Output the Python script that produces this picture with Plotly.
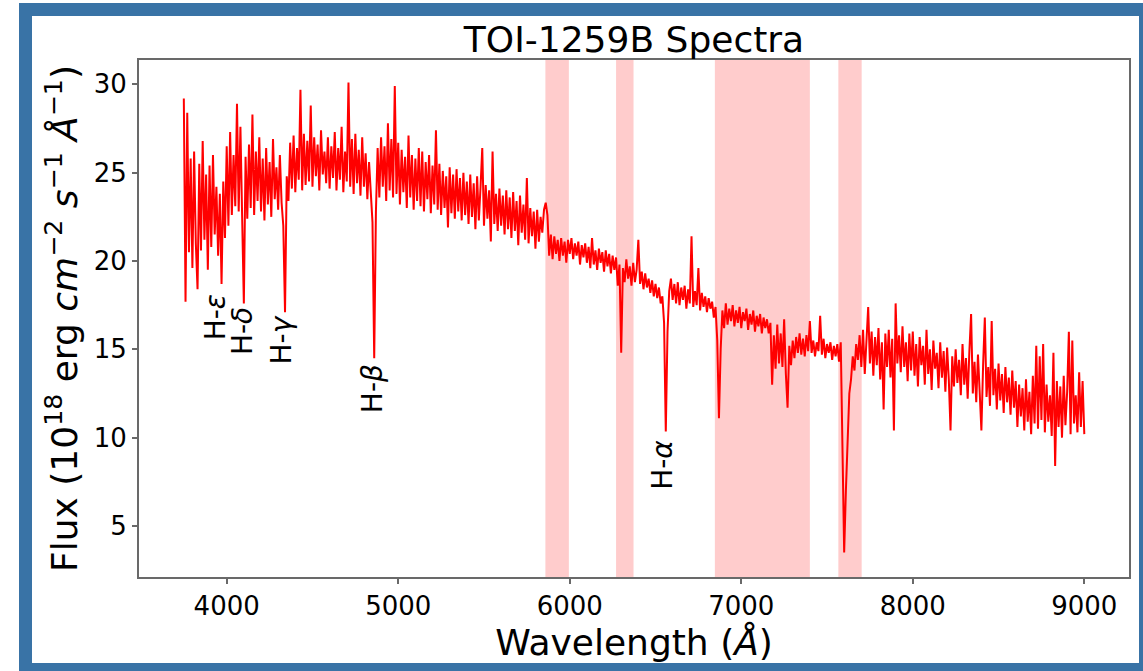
import plotly.graph_objects as go

# ---------------- data ----------------
WAVE_START = 3750   # Angstrom, first sample
WAVE_STEP = 10      # Angstrom between samples

FLUX = [
    # 3750 - 3840
    29.2, 17.7, 28.4, 20.5, 25.8, 19.6, 26.2, 21.0, 18.4, 25.5,
    # 3850 - 3940
    20.6, 26.8, 21.2, 24.9, 19.5, 25.4, 20.8, 26.0, 21.5, 24.2,
    # 3950 - 4040
    20.3, 23.8, 18.7, 24.5, 21.3, 26.5, 22.0, 27.3, 22.6, 26.0,
    # 4050 - 4140
    23.1, 28.9, 22.8, 27.6, 22.5, 17.6, 25.9, 22.4, 26.6, 23.0,
    # 4150 - 4240
    28.3, 22.6, 26.2, 23.4, 27.0, 22.8, 25.8, 22.3, 26.4, 23.2,
    # 4250 - 4340
    25.6, 22.5, 26.9, 23.5, 25.3, 22.9, 26.0, 23.3, 22.0, 17.1,
    # 4350 - 4440
    24.8, 23.4, 26.7, 24.1, 27.1, 23.9, 26.4, 24.6, 29.7, 24.0,
    # 4450 - 4540
    27.2, 24.3, 26.8, 24.5, 28.8, 24.2, 27.0, 24.8, 26.6, 24.0,
    # 4550 - 4640
    27.4, 24.9, 26.2, 24.4, 27.0, 24.1, 26.5, 24.7, 27.3, 24.0,
    # 4650 - 4740
    26.4, 24.6, 27.6, 23.9, 26.2, 24.5, 30.1, 24.2, 26.9, 23.8,
    # 4750 - 4840
    27.2, 24.4, 26.3, 23.7, 27.0, 24.2, 26.1, 23.5, 25.6, 23.9,
    # 4850 - 4940
    22.2, 14.5, 22.8, 26.4, 23.6, 27.0, 24.2, 26.5, 23.4, 27.8,
    # 4950 - 5040
    24.0, 26.9, 23.6, 29.9, 23.8, 26.7, 23.2, 26.3, 23.9, 25.9,
    # 5050 - 5140
    23.0, 27.1, 23.6, 26.0, 22.9, 25.8, 23.4, 26.4, 23.1, 26.2,
    # 5150 - 5240
    22.8, 25.6, 23.5, 26.0, 22.7, 25.4, 23.2, 27.4, 22.9, 25.5,
    # 5250 - 5340
    22.6, 25.1, 23.0, 24.8, 21.9, 25.3, 22.7, 24.9, 22.4, 25.2,
    # 5350 - 5440
    22.8, 24.7, 22.3, 25.0, 22.6, 24.5, 22.1, 24.9, 22.5, 24.4,
    # 5450 - 5540
    21.8, 24.8, 22.3, 24.2, 26.4, 22.0, 24.3, 22.4, 24.0, 21.1,
    # 5550 - 5640
    26.2, 22.1, 23.8, 21.7, 24.1, 22.0, 23.7, 21.5, 24.0, 21.8,
    # 5650 - 5740
    23.6, 21.3, 23.9, 21.7, 23.4, 20.9, 23.7, 21.6, 23.2, 21.2,
    # 5750 - 5840
    24.7, 21.0, 23.0, 21.4, 22.8, 20.7, 22.9, 21.1, 22.5, 21.6,
    # 5850 - 5940
    22.9, 23.3, 22.6, 20.3, 21.5, 20.1, 21.4, 20.4, 21.2, 20.0,
    # 5950 - 6040
    21.3, 20.3, 21.1, 19.9, 21.2, 20.4, 21.3, 20.1, 21.0, 20.3,
    # 6050 - 6140
    21.1, 19.8, 20.9, 20.2, 21.0, 19.9, 20.8, 19.6, 21.3, 19.8,
    # 6150 - 6240
    20.6, 19.5, 20.7, 19.9, 20.5, 19.4, 20.6, 19.7, 20.4, 19.3,
    # 6250 - 6340
    20.3, 19.5, 20.2, 18.6, 19.8, 14.8, 19.6, 18.8, 20.1, 19.0,
    # 6350 - 6440
    19.7, 18.6, 19.9, 18.8, 19.5, 21.2, 18.7, 19.4, 18.4, 19.3,
    # 6450 - 6540
    18.5, 19.0, 18.2, 18.9, 18.0, 18.7, 17.9, 18.5, 17.6, 18.0,
    # 6550 - 6640
    16.5, 10.35, 16.0, 18.3, 19.0, 17.8, 18.7, 17.6, 18.8, 17.5,
    # 6650 - 6740
    18.5, 17.8, 18.6, 17.3, 18.4, 17.6, 21.4, 17.4, 18.3, 17.5,
    # 6750 - 6840
    19.6, 17.2, 18.2, 17.4, 18.0, 17.1, 17.9, 17.3, 17.7, 16.8,
    # 6850 - 6940
    17.4, 15.5, 11.1, 15.0, 17.2, 16.2, 17.6, 16.4, 17.3, 16.6,
    # 6950 - 7040
    17.5, 16.3, 17.2, 16.5, 17.4, 16.2, 17.1, 16.6, 17.3, 16.1,
    # 7050 - 7140
    17.0, 16.4, 17.2, 16.0, 16.9, 16.3, 17.0, 15.9, 16.8, 16.2,
    # 7150 - 7240
    16.7, 15.9, 16.5, 13.0, 15.8, 13.9, 16.4, 14.2, 15.9, 14.0,
    # 7250 - 7340
    16.7, 13.6, 11.7, 15.2, 14.1, 15.5, 14.5, 15.7, 14.8, 15.9,
    # 7350 - 7440
    14.7, 15.6, 14.6, 15.8, 14.9, 16.6, 14.8, 15.5, 14.6, 15.4,
    # 7450 - 7540
    14.9, 16.9, 14.7, 15.6, 14.5, 15.3, 14.8, 15.4, 14.4, 15.2,
    # 7550 - 7640
    14.6, 15.3, 14.3, 15.4, 10.0, 3.5, 7.0, 10.3, 12.5, 13.3,
    # 7650 - 7740
    14.6, 13.8, 15.3, 14.4, 15.8, 14.0, 16.1, 13.6, 15.5, 17.4,
    # 7750 - 7840
    14.2, 16.0, 13.5, 15.7, 14.1, 16.2, 13.3, 15.4, 11.6, 15.9,
    # 7850 - 7940
    14.0, 16.1, 13.4, 15.6, 10.4, 17.6, 14.2, 15.8, 13.7, 16.3,
    # 7950 - 8040
    14.0, 15.4, 13.2, 15.9, 13.8, 16.0, 13.5, 15.3, 12.9, 15.7,
    # 8050 - 8140
    14.1, 15.2, 13.0, 16.1, 13.6, 15.0, 12.7, 15.5, 13.9, 14.8,
    # 8150 - 8240
    12.8, 15.4, 13.4, 14.9, 12.6, 15.1, 13.3, 10.4, 14.6, 12.9,
    # 8250 - 8340
    15.0, 13.1, 14.4, 12.4, 15.3, 13.0, 14.5, 12.2, 14.9, 17.0,
    # 8350 - 8440
    12.5, 14.3, 12.0, 14.7, 12.6, 10.4, 14.1, 16.8, 12.3, 14.0,
    # 8450 - 8540
    11.8, 16.6, 12.4, 13.9, 11.6, 14.2, 12.1, 13.6, 11.4, 14.0,
    # 8550 - 8640
    12.0, 13.4, 11.3, 13.8, 11.7, 13.2, 10.6, 13.0, 11.2, 12.8,
    # 8650 - 8740
    10.4, 13.3, 10.9, 12.6, 10.2, 13.5, 10.8, 15.2, 10.5, 14.6,
    # 8750 - 8840
    11.0, 15.3, 10.3, 13.0, 10.9, 12.4, 10.1, 14.8, 8.4, 13.2,
    # 8850 - 8940
    10.6, 12.9, 10.0, 13.5, 10.7, 12.6, 16.0, 10.2, 15.5, 10.8,
    # 8950 - 9000
    12.4, 10.3, 13.7, 10.6, 13.2, 10.2,
]
WAVE = [WAVE_START + WAVE_STEP * i for i in range(len(FLUX))]

# shaded (telluric) wavelength bands
BAND_START = [5858, 6270, 6846, 7566]
BAND_END = [5995, 6372, 7400, 7702]

# Balmer line labels
LINE_LABELS = ["H-<i>ε</i>", "H-<i>δ</i>", "H-<i>γ</i>", "H-<i>β</i>", "H-<i>α</i>"]
LINE_LABEL_X = [3935, 4089, 4322, 4847, 6539]
LINE_LABEL_Y = [18.2, 17.5, 17.05, 14.3, 10.0]

X_TICKS = [4000, 5000, 6000, 7000, 8000, 9000]
Y_TICKS = [5, 10, 15, 20, 25, 30]

# ---------------- figure ----------------
W, H = 1143, 671
PL, PR, PT, PB = 139, 1129, 60, 577   # plot area in pixels
FONT = "DejaVu Sans"
AXCOL = "rgb(105,105,105)"
FRAME = "rgb(57,115,166)"


def xp(px):
    return (px - PL) / (PR - PL)


def yp(py):
    return (PB - py) / (PB - PT)


fig = go.Figure()
fig.add_trace(go.Scatter(
    x=WAVE, y=FLUX, mode="lines",
    line=dict(color="#ff0000", width=2.0),
    showlegend=False, hoverinfo="skip",
))

shapes = []
for a, b in zip(BAND_START, BAND_END):
    shapes.append(dict(type="rect", xref="x", yref="paper", x0=a, x1=b, y0=0, y1=1,
                       fillcolor="rgba(255,0,0,0.2)", line=dict(width=0), layer="below"))

# blue frame around the whole picture
for (x0, x1, y0, y1) in [(19, 32, 3, 671), (1139, 1150, 3, 671),
                         (19, 1150, 3, 16), (19, 1150, 663, 675)]:
    shapes.append(dict(type="rect", xref="paper", yref="paper",
                       x0=xp(x0), x1=xp(x1), y0=yp(y1), y1=yp(y0),
                       fillcolor=FRAME, line=dict(width=0), layer="above"))

annotations = []
for txt, x, y in zip(LINE_LABELS, LINE_LABEL_X, LINE_LABEL_Y):
    annotations.append(dict(x=x, y=y, xref="x", yref="y", text=txt, showarrow=False,
                            textangle=-90, xanchor="center", yanchor="top",
                            font=dict(family=FONT, size=28, color="black")))

fig.update_layout(
    width=W, height=H,
    margin=dict(l=PL, r=W - PR, t=PT, b=H - PB, pad=0),
    paper_bgcolor="white", plot_bgcolor="white",
    font=dict(family=FONT, color="black"),
    title=dict(text="TOI-1259B Spectra", x=0.5, xref="paper", xanchor="center",
               y=1, yref="paper", yanchor="bottom", pad=dict(b=8),
               font=dict(family=FONT, size=36, color="black")),
    shapes=shapes,
    annotations=annotations,
    showlegend=False,
)

fig.update_xaxes(
    range=[3488.7, 9260.6], tickvals=X_TICKS, ticktext=[str(v) for v in X_TICKS],
    showgrid=False, zeroline=False,
    showline=True, linecolor=AXCOL, linewidth=1.8, mirror=True,
    ticks="outside", ticklen=5, tickwidth=1.5, tickcolor=AXCOL,
    tickfont=dict(family=FONT, size=26, color="black"),
    title=dict(text="Wavelength (<i>Å</i>)", standoff=6,
               font=dict(family=FONT, size=36, color="black")),
)
fig.update_yaxes(
    range=[2.11, 31.38], tickvals=Y_TICKS, ticktext=[str(v) for v in Y_TICKS],
    showgrid=False, zeroline=False,
    showline=True, linecolor=AXCOL, linewidth=1.8, mirror=True,
    ticks="outside", ticklen=5, tickwidth=1.5, tickcolor=AXCOL,
    tickfont=dict(family=FONT, size=26, color="black"),
    title=dict(text="Flux (10<sup>18</sup> erg <i>cm</i><sup>−2</sup> <i>s</i><sup>−1</sup> <i>Å</i><sup>−1</sup>)",
               standoff=5, font=dict(family=FONT, size=36, color="black")),
)

fig.write_html("out.html")
